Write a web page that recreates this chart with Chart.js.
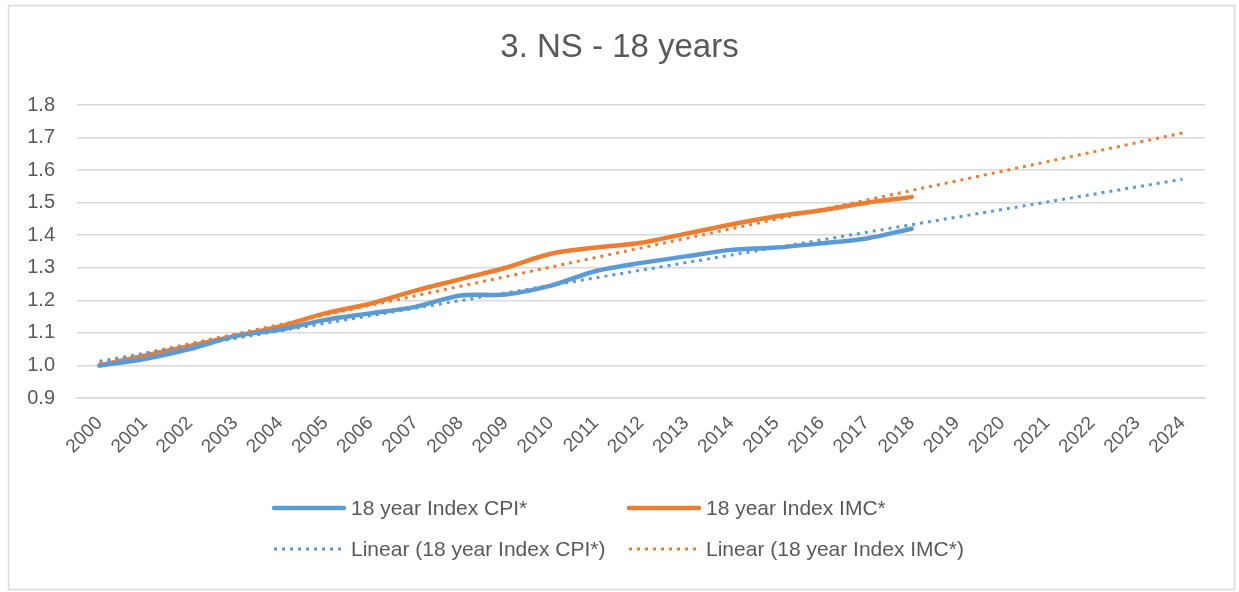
<!DOCTYPE html>
<html>
<head>
<meta charset="utf-8">
<title>3. NS - 18 years</title>
<script src="https://cdn.jsdelivr.net/npm/chart.js@4.4.1/dist/chart.umd.min.js"></script>
<style>
  html, body { margin: 0; padding: 0; background: #fff; }
  #wrap { position: relative; width: 1239px; height: 592px; }
</style>
</head>
<body>
<div id="wrap"><canvas id="grafico" width="1239" height="592"></canvas></div>
<script>
// ==================== DATOS ====================

const years = ['2000', '2001', '2002', '2003', '2004', '2005', '2006', '2007', '2008', '2009', '2010', '2011',
               '2012', '2013', '2014', '2015', '2016', '2017', '2018', '2019', '2020', '2021', '2022', '2023', '2024'];

// 18 year Index CPI* (2000-2018)
const indexCPI = [1.00, 1.02, 1.05, 1.09, 1.11, 1.14, 1.16, 1.18, 1.215, 1.218, 1.245, 1.29, 1.315, 1.335,
                  1.355, 1.362, 1.375, 1.39, 1.42];

// 18 year Index IMC* (2000-2018)
const indexIMC = [1.00, 1.03, 1.06, 1.09, 1.12, 1.16, 1.19, 1.23, 1.265, 1.30, 1.343, 1.362, 1.377, 1.405,
                  1.433, 1.458, 1.477, 1.50, 1.517];

// lineas de tendencia (extremos)
const trendYears = ['2000', '2024'];
const trendCPI = [1.013, 1.572];
const trendIMC = [1.008, 1.714];

const yTicks = [0.9, 1.0, 1.1, 1.2, 1.3, 1.4, 1.5, 1.6, 1.7, 1.8];

const TITULO = '3. NS - 18 years';

// ==================== ESTILOS ====================

const AZUL = '#5B9BD5';
const NARANJA = '#ED7D31';
const GRIS_TEXTO = '#595959';
const GRIS_GRID = '#D9D9D9';
const FUENTE = '"Liberation Sans", Arial, sans-serif';

// ==================== PLUGINS ====================

// marco exterior y titulo centrado en todo el lienzo
const marcoExterior = {
  id: 'marcoExterior',
  beforeDraw(chart) {
    const ctx = chart.ctx;
    ctx.save();
    ctx.strokeStyle = GRIS_GRID;
    ctx.lineWidth = 1.5;
    ctx.strokeRect(8.5, 5.5, 1226, 584);
    ctx.fillStyle = GRIS_TEXTO;
    ctx.font = '33px ' + FUENTE;
    ctx.textAlign = 'center';
    ctx.textBaseline = 'middle';
    ctx.fillText(TITULO, chart.width / 2, 48);
    ctx.restore();
  }
};

// leyenda de 2 columnas como en Excel
const leyendaExcel = {
  id: 'leyendaExcel',
  afterDraw(chart) {
    const ctx = chart.ctx;
    const area = chart.chartArea;
    const cols = [274, 629];
    const rows = [area.bottom + 110, area.bottom + 151];

    chart.data.datasets.forEach((ds, i) => {
      const x = cols[i % 2];
      const y = rows[Math.floor(i / 2)];
      ctx.save();
      ctx.strokeStyle = ds.borderColor;
      ctx.lineWidth = ds.borderWidth;
      ctx.lineCap = ds.borderDash ? 'butt' : 'round';
      ctx.setLineDash(ds.borderDash || []);
      ctx.beginPath();
      ctx.moveTo(x, y);
      ctx.lineTo(x + 70, y);
      ctx.stroke();
      ctx.setLineDash([]);
      ctx.fillStyle = GRIS_TEXTO;
      ctx.font = '21px ' + FUENTE;
      ctx.textBaseline = 'middle';
      ctx.fillText(ds.label, x + 77, y + 1);
      ctx.restore();
    });
  }
};

// ==================== GRAFICO ====================

function crearGrafico() {
  const ctx = document.getElementById('grafico').getContext('2d');

  new Chart(ctx, {
    type: 'line',
    data: {
      labels: years,
      datasets: [
        {
          label: '18 year Index CPI*',
          data: indexCPI,
          borderColor: AZUL,
          borderWidth: 4.5,
          borderCapStyle: 'round',
          tension: 0.3,
          pointRadius: 0,
          order: 1
        },
        {
          label: '18 year Index IMC*',
          data: indexIMC,
          borderColor: NARANJA,
          borderWidth: 4.5,
          borderCapStyle: 'round',
          tension: 0.3,
          pointRadius: 0,
          order: 1
        },
        {
          label: 'Linear (18 year Index CPI*)',
          data: trendYears.map((y, i) => ({ x: y, y: trendCPI[i] })),
          borderColor: AZUL,
          borderWidth: 3,
          borderDash: [3, 5],
          pointRadius: 0,
          order: 0
        },
        {
          label: 'Linear (18 year Index IMC*)',
          data: trendYears.map((y, i) => ({ x: y, y: trendIMC[i] })),
          borderColor: NARANJA,
          borderWidth: 3,
          borderDash: [3, 5],
          pointRadius: 0,
          order: 0
        }
      ]
    },
    options: {
      responsive: false,
      animation: false,
      layout: {
        padding: { left: 10, right: 34, top: 105, bottom: 134 }
      },
      plugins: {
        legend: { display: false },
        tooltip: { enabled: false },
        title: { display: false }
      },
      scales: {
        x: {
          type: 'category',
          offset: true,
          grid: { display: false },
          border: { display: true, color: GRIS_GRID, width: 1.5 },
          ticks: {
            color: GRIS_TEXTO,
            font: { family: FUENTE, size: 19 },
            autoSkip: false,
            minRotation: 45,
            maxRotation: 45,
            padding: 6
          },
          afterFit(scale) { scale.height = 60; }
        },
        y: {
          min: 0.9,
          max: 1.8,
          afterBuildTicks(scale) { scale.ticks = yTicks.map(v => ({ value: v })); },
          grid: { color: GRIS_GRID, lineWidth: 1.5, drawTicks: false },
          border: { display: false },
          ticks: {
            color: GRIS_TEXTO,
            font: { family: FUENTE, size: 20 },
            padding: 22,
            callback: v => v.toFixed(1)
          },
          afterFit(scale) { scale.width = 67; }
        }
      }
    },
    plugins: [marcoExterior, leyendaExcel]
  });
}

crearGrafico();
</script>
</body>
</html>
